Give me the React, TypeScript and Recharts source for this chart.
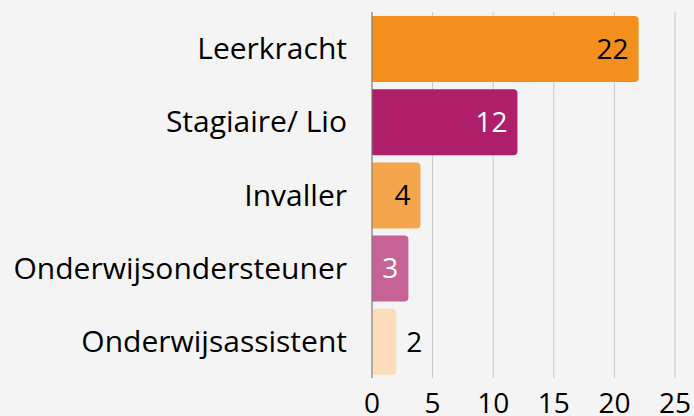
import { Bar, BarChart, CartesianGrid, Cell, LabelList, XAxis, YAxis } from "recharts"

const categories = ["Leerkracht", "Stagiaire/ Lio", "Invaller", "Onderwijsondersteuner", "Onderwijsassistent"]
const values = [22, 12, 4, 3, 2]
const xTicks = [0, 5, 10, 15, 20, 25]

const barColors = ["#f28f1d", "#af1f69", "#f5a54c", "#c66294", "#fcdcb9"]
const labelColors = ["#000000", "#ffffff", "#000000", "#ffffff", "#000000"]

const data = categories.map((name, i) => ({ name, value: values[i] }))

const font = "'Open Sans', Lato, sans-serif"

function ValueLabel(props: any) {
  const { x, y, width, height, value, index } = props
  const outside = width < 30
  return (
    <text
      x={outside ? x + width + 10 : x + width - 10}
      y={y + height / 2}
      dy="0.35em"
      textAnchor={outside ? "start" : "end"}
      fill={labelColors[index]}
      fontSize={28}
      fontFamily={font}
    >
      {value}
    </text>
  )
}

export default function App() {
  return (
    <div style={{ position: "fixed", left: 0, top: 0, width: 694, height: 416, background: "#f4f4f4" }}>
      <BarChart
        width={694}
        height={416}
        data={data}
        layout="vertical"
        margin={{ top: 12, right: 19, bottom: 0, left: 0 }}
      >
        <CartesianGrid horizontal={false} stroke="#c8c8c8" />
        <XAxis
          type="number"
          domain={[0, 25]}
          ticks={xTicks}
          height={38}
          axisLine={false}
          tickLine={false}
          tickMargin={9}
          tick={{ fill: "#000", fontSize: 28, fontFamily: font }}
        />
        <YAxis
          type="category"
          dataKey="name"
          width={372}
          axisLine={{ stroke: "#777777" }}
          tickLine={false}
          tickMargin={19}
          tick={{ fill: "#000", fontSize: 30, fontFamily: font }}
        />
        <Bar dataKey="value" barSize={66} radius={[0, 4, 4, 0]} isAnimationActive={false}>
          {data.map((d, i) => (
            <Cell key={d.name} fill={barColors[i]} />
          ))}
          <LabelList dataKey="value" content={<ValueLabel />} />
        </Bar>
      </BarChart>
    </div>
  )
}
